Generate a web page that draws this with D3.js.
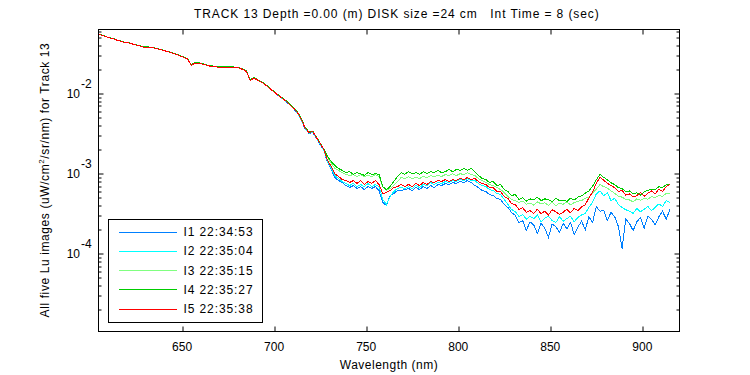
<!DOCTYPE html>
<html>
<head>
<meta charset="utf-8">
<script src="https://d3js.org/d3.v7.min.js"></script>
<style>
  body { margin: 0; background: #fff; }
  text { font-family: "Liberation Sans", Arial, sans-serif; fill: #000; }
</style>
</head>
<body>
<div id="chart"></div>
<script>
// wavelength grid (nm)
var wavelength = [
  605,607,609,611,613,615,617,619,621,623,625,627,629,631,633,635,637,639,641,643,
  645,647,649,651,653,655,657,659,661,663,665,667,669,671,673,675,677,679,681,683,
  685,687,689,691,693,695,697,699,701,703,705,707,709,711,713,715,717,719,721,723,
  725,727,729,731,733,735,737,739,741,743,745,747,749,751,753,755,757,759,761,763,
  765,767,769,771,773,775,777,779,781,783,785,787,789,791,793,795,797,799,801,803,
  805,807,809,811,813,815,817,819,821,823,825,827,829,831,833,835,837,839,841,843,
  845,847,849,851,853,855,857,859,861,863,865,867,869,871,873,875,877,879,881,883,
  885,887,889,891,893,895,897,899,901,903,905,907,909,911,913,915
];

// Lu of the five images, in units of 1e-4 uW/cm^2/sr/nm
var luI1 = [
  545,529,507,493,479,459,446,433,427,415,403,391,380,380,375,369,359,349,339,330,
  316,307,294,281,269,223,240,240,233,227,220,217,214,214,214,214,214,211,208,199,
  188,144,156,147,139,130,119,109,100,91.2,84.8,77.6,70.2,63.0,55.5,45.0,35.5,31.8,32.5,27.5,
  23.0,19.5,
  13.8,11.3,8.95,8.21,7.76,7.11,6.72,7.11,6.53,6.91,
  6.34,6.91,6.53,6.91,6.16,4.37,4.01,5.34,5.65,6.16,
  6.16,6.34,6.53,6.16,6.72,6.34,6.91,6.53,7.11,6.72,
  7.32,7.11,7.54,7.32,7.76,7.54,7.98,7.76,8.21,7.76,
  7.11,6.72,6.16,5.99,5.49,5.34,4.90,4.76,4.12,3.78,
  3.28,3.01,
  2.45,2.60,1.95,2.50,2.30,1.80,2.40,2.10,1.60,2.35,
  2.20,1.85,2.40,2.05,2.45,1.75,2.15,2.55,2.00,2.90,
  2.45,3.90,3.40,3.50,2.60,3.30,2.90,2.20,1.16,2.70,
  2.40,1.95,2.50,2.85,2.10,2.95,2.70,2.30,2.90,3.40,
  2.70,3.60
];
var luI2 = [
  545,529,507,493,479,459,446,433,427,415,403,391,380,380,375,369,359,349,339,330,
  316,307,294,281,269,224,240,240,233,227,220,217,214,214,214,214,214,211,208,199,
  188,145,156,147,139,130,119,109,100,91.5,85.0,78.0,70.5,63.5,56.0,45.5,36.0,32.0,33.0,27.8,
  23.3,19.8,
  14.2,11.6,9.48,8.70,7.98,7.54,7.11,7.54,6.91,7.32,
  6.91,7.54,6.91,7.32,6.91,4.76,4.12,5.19,5.99,6.53,
  6.72,6.53,6.91,6.53,7.11,6.72,7.32,7.11,7.76,7.32,
  7.76,7.54,7.98,7.76,8.21,7.98,8.45,8.21,8.70,8.21,
  8.21,7.54,7.11,6.91,6.34,6.16,5.65,5.49,4.76,4.12,
  3.57,3.37,
  2.92,3.10,2.70,2.95,2.75,3.05,2.50,2.80,2.95,2.60,
  2.45,2.90,2.55,2.75,2.95,2.50,2.85,3.05,3.20,3.80,
  4.40,5.60,6.10,5.30,5.80,4.60,4.95,4.10,3.80,3.55,
  3.40,3.20,3.70,3.35,3.60,3.90,3.45,3.80,4.20,3.90,
  4.60,4.40
];
var luI3 = [
  546,530,508,494,480,460,447,434,428,416,405,392,381,381,376,370,360,350,340,331,
  317,308,295,283,270,226,241,241,234,228,221,218,215,215,215,215,215,212,209,200,
  189,146,157,148,140,131,120,109,101,92.2,85.8,78.8,71.3,64.5,56.8,46.5,37.0,32.8,33.8,28.4,
  24.0,20.2,
  15.9,13.4,11.6,11.0,10.3,9.76,9.48,9.76,9.21,9.76,
  9.21,9.48,9.21,9.76,9.21,6.91,6.16,6.53,7.11,7.98,
  8.95,8.70,9.21,8.70,8.95,8.70,9.21,8.95,9.48,9.21,
  9.48,9.21,9.76,9.48,10.0,9.48,10.0,9.76,10.3,9.76,
  9.48,8.70,8.21,7.76,7.32,7.11,6.72,6.34,5.82,5.19,
  4.76,4.62,
  4.37,4.55,4.15,4.30,4.05,4.45,4.20,4.35,4.00,4.40,
  3.95,4.30,4.15,4.45,4.10,4.35,4.55,4.60,4.95,5.10,
  5.70,6.40,7.30,6.90,6.60,6.10,5.70,5.20,5.10,4.75,
  4.70,4.45,4.85,4.65,4.95,4.80,5.20,5.00,5.40,5.20,
  5.70,5.65
];
var luI4 = [
  548,532,510,497,482,462,450,436,430,418,406,395,383,382,379,372,361,352,341,333,
  320,309,297,284,272,228,243,242,236,229,222,220,216,217,216,215,216,213,210,202,
  191,148,158,149,141,132,121,110,102,93.0,86.5,79.5,72.0,65.0,57.5,47.0,37.3,33.0,34.0,28.6,
  24.1,20.3,
  16.4,14.2,12.6,11.6,11.0,10.3,10.6,9.8,10.3,10.0,
  9.5,10.3,9.8,10.0,9.8,6.9,6.3,6.9,8.0,9.2,
  10.3,9.8,10.6,10.0,10.3,9.8,10.6,10.0,10.6,10.3,
  11.0,10.3,10.6,11.3,10.6,11.3,11.0,11.6,11.0,11.6,
  10.6,9.5,8.7,8.45,7.76,7.98,7.11,7.32,6.34,5.99,
  5.34,5.49,
  4.76,5.00,4.55,4.85,4.70,5.10,4.60,4.85,4.75,4.45,
  4.95,4.60,4.70,4.50,4.95,4.70,5.10,5.30,5.70,6.10,
  7.00,8.40,9.80,9.00,8.40,7.70,7.30,6.70,6.50,6.00,
  6.10,5.60,5.80,5.40,5.90,6.20,6.40,6.30,6.90,6.70,
  7.30,7.40
];
var luI5 = [
  545,529,507,493,479,459,446,433,427,415,403,391,380,380,375,369,359,349,339,330,
  316,307,294,281,269,224,240,240,233,227,220,217,214,214,214,214,214,211,208,199,
  188,145,156,147,139,130,119,109,100,91.7,85.4,78.3,70.8,64.0,56.3,46.0,36.6,32.6,33.6,28.2,
  23.8,20.0,
  14.6,12.3,10.0,9.21,8.45,8.21,7.76,8.21,7.54,8.21,
  7.32,7.98,7.54,8.21,7.32,5.65,5.82,6.16,6.72,6.91,
  7.32,6.91,7.32,6.91,7.54,7.11,7.76,7.32,7.98,7.76,
  8.21,7.98,8.45,7.98,8.45,8.21,8.70,8.45,8.95,8.45,
  8.70,7.98,7.54,7.32,6.72,6.72,5.99,5.99,5.19,4.90,
  4.24,4.12,
  3.57,3.75,3.30,3.45,3.20,3.60,3.15,3.40,3.05,3.55,
  3.35,3.10,3.30,3.60,3.25,3.70,3.45,3.85,4.10,5.00,
  5.90,7.60,9.00,8.30,7.60,7.10,6.70,6.00,6.20,5.40,
  5.60,5.10,5.30,5.80,5.20,5.70,6.10,5.60,6.40,6.00,
  6.90,7.30
];
var luUnit = 1e-4;

var seriesNames = ["I1 22:34:53", "I2 22:35:04", "I3 22:35:15", "I4 22:35:27", "I5 22:35:38"];
var seriesColors = ["#0080ff", "#00ffff", "#80ff80", "#00cc00", "#ff0000"];
var seriesValues = [luI1, luI2, luI3, luI4, luI5];

var xTicks = [650, 700, 750, 800, 850, 900];
var yLabelTicks = [1e-2, 1e-3, 1e-4];
var yLabelExps = ["-2", "-3", "-4"];

var titleText = "TRACK 13 Depth =0.00 (m) DISK size =24 cm   Int Time = 8 (sec)";

// set the dimensions and margins of the graph
var margin = { top: 29.5, right: 70.5, bottom: 43.5, left: 98.5 },
  width = 750 - margin.left - margin.right,
  height = 375 - margin.top - margin.bottom;

var root = d3
  .select("#chart")
  .append("svg")
  .attr("width", 750)
  .attr("height", 375);

root.append("rect").attr("width", 750).attr("height", 375).attr("fill", "#fff");

var svg = root
  .append("g")
  .attr("transform", "translate(" + margin.left + "," + margin.top + ")");

// scales
var x = d3.scaleLinear().domain([604.6, 920.2]).range([0, width]);
var y = d3.scaleLog().domain([1.074e-5, 0.0629]).range([height, 0]);

// clip for the curves
svg
  .append("clipPath")
  .attr("id", "clip")
  .append("rect")
  .attr("width", width)
  .attr("height", height);

// curves, I1 first so I5 ends on top
var line = d3
  .line()
  .x((d) => x(d[0]))
  .y((d) => y(d[1] * luUnit));

svg
  .append("g")
  .attr("clip-path", "url(#clip)")
  .selectAll("path")
  .data(seriesValues)
  .enter()
  .append("path")
  .attr("d", (vals) => line(wavelength.map((w, i) => [w, vals[i]])))
  .attr("fill", "none")
  .attr("stroke", (d, i) => seriesColors[i])
  .attr("stroke-width", 1)
  .style("shape-rendering", "crispEdges");

// box
svg
  .append("rect")
  .attr("width", width)
  .attr("height", height)
  .attr("fill", "none")
  .attr("stroke", "#000")
  .attr("stroke-width", 1);

// X ticks, inward on bottom and top
var xt = svg.append("g").selectAll("g").data(xTicks).enter().append("g");
xt.append("line")
  .attr("x1", (d) => Math.round(x(d)) + 0.5)
  .attr("x2", (d) => Math.round(x(d)) + 0.5)
  .attr("y1", height)
  .attr("y2", height - 5)
  .attr("stroke", "#000");
xt.append("line")
  .attr("x1", (d) => Math.round(x(d)) + 0.5)
  .attr("x2", (d) => Math.round(x(d)) + 0.5)
  .attr("y1", 0)
  .attr("y2", 5)
  .attr("stroke", "#000");
xt.append("text")
  .attr("x", (d) => x(d))
  .attr("y", height + 19)
  .attr("text-anchor", "middle")
  .style("font-size", "12px")
  .text((d) => d);

// Y ticks (log): majors at decades, minors in between, both sides
var yTicks = y.ticks();
var isMajor = (d) => Math.abs(Math.log10(d) - Math.round(Math.log10(d))) < 1e-9;
var yt = svg.append("g").selectAll("g").data(yTicks).enter().append("g");
yt.append("line")
  .attr("x1", 0)
  .attr("x2", (d) => (isMajor(d) ? 5 : 3))
  .attr("y1", (d) => Math.round(y(d)) + 0.5)
  .attr("y2", (d) => Math.round(y(d)) + 0.5)
  .attr("stroke", "#000");
yt.append("line")
  .attr("x1", width)
  .attr("x2", (d) => width - (isMajor(d) ? 5 : 3))
  .attr("y1", (d) => Math.round(y(d)) + 0.5)
  .attr("y2", (d) => Math.round(y(d)) + 0.5)
  .attr("stroke", "#000");

// Y tick labels as 10 with exponent
var yl = svg.append("g").selectAll("g").data(yLabelTicks).enter().append("g");
yl.append("text")
  .attr("x", -18.5)
  .attr("y", (d) => y(d) + 4.5)
  .attr("text-anchor", "end")
  .style("font-size", "12px")
  .text("10");
yl.append("text")
  .attr("x", -17.5)
  .attr("y", (d, i) => y(d) - 5.5)
  .attr("text-anchor", "start")
  .style("font-size", "12px")
  .text((d, i) => yLabelExps[i]);

// title
root
  .append("text")
  .attr("x", 194)
  .attr("y", 18)
  .style("font-size", "12px")
  .style("letter-spacing", "0.9px")
  .style("white-space", "pre")
  .text(titleText);

// X label
root
  .append("text")
  .attr("x", 389)
  .attr("y", 369)
  .attr("text-anchor", "middle")
  .style("font-size", "12px")
  .style("letter-spacing", "0.5px")
  .text("Wavelength (nm)");

// Y label
var ylab = root
  .append("text")
  .attr("transform", "translate(49,180) rotate(-90)")
  .attr("text-anchor", "middle")
  .style("font-size", "12px")
  .style("letter-spacing", "0.6px");
ylab.append("tspan").text("All five Lu images (uW/cm");
ylab.append("tspan").attr("dy", -5).style("font-size", "8px").text("2");
ylab.append("tspan").attr("dy", 5).text("/sr/nm) for Track 13");

// legend
var lg = root.append("g");
lg.append("rect")
  .attr("x", 108.5)
  .attr("y", 219.5)
  .attr("width", 154)
  .attr("height", 103)
  .attr("fill", "#fff")
  .attr("stroke", "#000");
var items = lg.selectAll("g").data(seriesNames).enter().append("g");
items
  .append("line")
  .attr("x1", 119)
  .attr("x2", 177)
  .attr("y1", (d, i) => Math.round(231.7 + i * 19.25) + 0.5)
  .attr("y2", (d, i) => Math.round(231.7 + i * 19.25) + 0.5)
  .attr("stroke", (d, i) => seriesColors[i]);
items
  .append("text")
  .attr("x", 183.5)
  .attr("y", (d, i) => 231.7 + i * 19.25 + 4.5)
  .style("font-size", "12px")
  .style("letter-spacing", "0.9px")
  .text((d) => d);
</script>
</body>
</html>
